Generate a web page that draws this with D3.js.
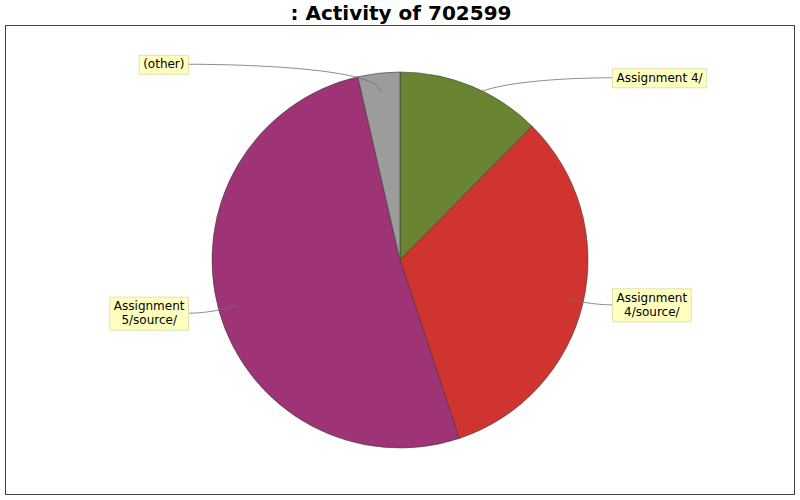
<!DOCTYPE html>
<html>
<head>
<meta charset="utf-8">
<script src="https://cdn.jsdelivr.net/npm/d3@7"></script>
<style>
  html, body { margin: 0; padding: 0; background: #fff; }
  svg { display: block; }
</style>
</head>
<body>
<svg id="chart" width="800" height="500"></svg>
<script>
const title = ": Activity of 702599";
const categories = ["Assignment 4/", "Assignment 4/source/", "Assignment 5/source/", "(other)"];
const values = [12.4, 32.5, 51.5, 3.6];
const colors = ["#6a8532", "#cf3431", "#9e3375", "#9c9c9c"];

const W = 800, H = 500;
const svg = d3.select("#chart");
const font = "'DejaVu Sans', Verdana, sans-serif";

svg.append("rect").attr("width", W).attr("height", H).attr("fill", "#fff");

svg.append("text")
  .attr("x", W / 2 + 1).attr("y", 20)
  .attr("text-anchor", "middle")
  .attr("font-family", font)
  .attr("font-weight", "bold")
  .attr("font-size", 20)
  .attr("fill", "#000")
  .text(title);

// plot border
svg.append("rect")
  .attr("x", 5.5).attr("y", 25.5)
  .attr("width", 789).attr("height", 469)
  .attr("fill", "none").attr("stroke", "#444").attr("stroke-width", 1);

const cx = 400, cy = 260, R = 188;
const data = categories.map((c, i) => ({ name: c, value: values[i], color: colors[i] }));

const pie = d3.pie().value(d => d.value).sort(null).startAngle(0).endAngle(2 * Math.PI);
const arcs = pie(data);
const arc = d3.arc().innerRadius(0).outerRadius(R);

const g = svg.append("g").attr("transform", `translate(${cx},${cy})`);
g.selectAll("path.slice").data(arcs).enter().append("path")
  .attr("class", "slice")
  .attr("d", arc)
  .attr("fill", d => d.data.color)
  .attr("stroke", "#3a3a3a")
  .attr("stroke-width", 0.6)
  .attr("stroke-linejoin", "round");

// labels
const labelLayer = svg.append("g");
const pt = (ang, r) => [cx + r * Math.sin(ang), cy - r * Math.cos(ang)];
const maxW = 100;

function wrap(text) {
  const tmp = svg.append("text").attr("font-family", font).attr("font-size", 12).attr("visibility", "hidden");
  const words = text.split(" ");
  const lines = [];
  let cur = "";
  words.forEach(w => {
    const test = cur ? cur + " " + w : w;
    tmp.text(test);
    if (tmp.node().getComputedTextLength() > maxW && cur) {
      lines.push(cur); cur = w;
    } else cur = test;
  });
  lines.push(cur);
  const widths = lines.map(l => { tmp.text(l); return tmp.node().getComputedTextLength(); });
  tmp.remove();
  return { lines, widths };
}

arcs.forEach(a => {
  const mid = (a.startAngle + a.endAngle) / 2;
  const right = Math.sin(mid) >= 0;
  const { lines, widths } = wrap(a.data.name);
  const lineH = 14;
  const padX = 4, padY = 2.5;
  const bw = d3.max(widths) + 2 * padX;
  const bh = lines.length * lineH + 2 * padY;
  const ty = cy - 197 * Math.cos(mid);
  const bx = right ? cx + 212 : cx - 212 - bw;
  const targetX = right ? bx : bx + bw;
  const anchorX = right ? cx + R * 1.1 : cx - R * 1.1;
  const elbow = pt(mid, R * 1.05);
  const link = pt(mid, R * 0.9);

  const path = d3.path();
  path.moveTo(targetX, ty);
  path.bezierCurveTo(anchorX, ty, elbow[0], elbow[1], link[0], link[1]);
  labelLayer.append("path")
    .attr("d", path.toString())
    .attr("fill", "none")
    .attr("stroke", "#6e6e6e")
    .attr("stroke-width", 0.8);

  labelLayer.append("rect")
    .attr("x", bx + 0.5).attr("y", ty - bh / 2 + 0.5)
    .attr("width", bw).attr("height", bh)
    .attr("fill", "#ffffc0")
    .attr("stroke", "#e2e2b0")
    .attr("stroke-width", 1);

  const t = labelLayer.append("text")
    .attr("font-family", font)
    .attr("font-size", 12)
    .attr("fill", "#000")
    .attr("text-anchor", "middle");
  lines.forEach((l, i) => {
    t.append("tspan")
      .attr("x", bx + bw / 2 + 0.5)
      .attr("y", ty - bh / 2 + padY + lineH * i + 11)
      .text(l);
  });
});
</script>
</body>
</html>
